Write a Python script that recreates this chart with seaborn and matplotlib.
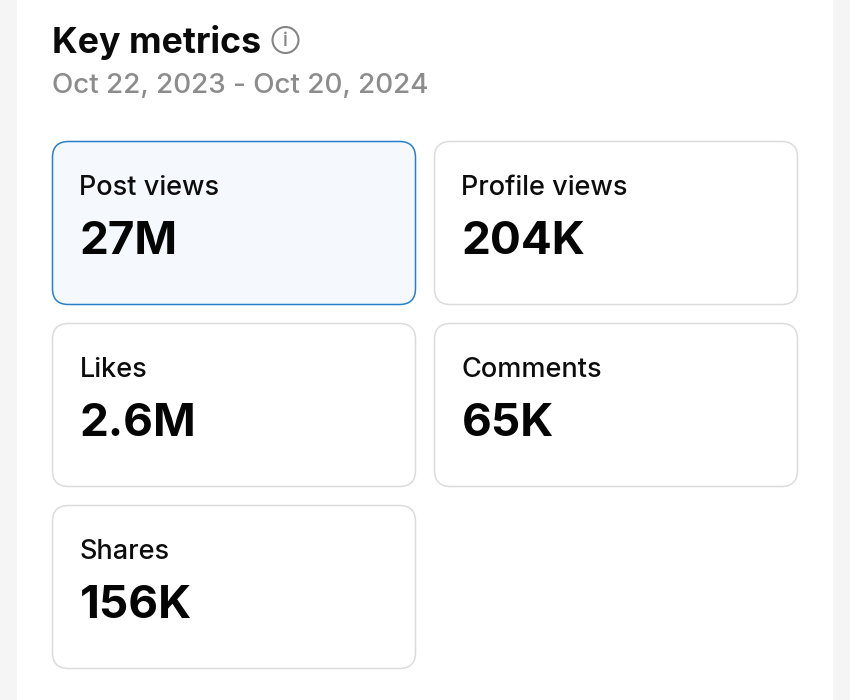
import matplotlib
matplotlib.use("Agg")
import matplotlib.pyplot as plt
from matplotlib.patches import FancyBboxPatch, Rectangle, Circle
import seaborn as sns

sns.set_theme(style="white")
plt.rcParams['font.family'] = ['Inter', 'Liberation Sans', 'DejaVu Sans']

title = "Key metrics"
subtitle = "Oct 22, 2023 - Oct 20, 2024"
labels = ["Post views", "Profile views", "Likes", "Comments", "Shares"]
values = ["27M", "204K", "2.6M", "65K", "156K"]
cols = [0, 1, 0, 1, 0]
rows = [0, 0, 1, 1, 2]

fig = plt.figure(figsize=(8.5, 7), dpi=100, facecolor="#f5f5f6")
ax = fig.add_axes([0, 0, 1, 1])
ax.set_xlim(0, 850)
ax.set_ylim(700, 0)
ax.axis("off")
ax.add_patch(Rectangle((17, 0), 816, 700, fc="white", ec="none"))

ax.text(52, 42.5, title, fontsize=25.7, fontweight="bold", color="#0a0a0a", va="center", ha="left")
ax.add_patch(Circle((285.5, 40), 13, fc="none", ec="#858585", lw=1.5))
ax.text(285.5, 40.5, "i", fontsize=14, fontweight="medium", color="#858585", va="center", ha="center")
ax.text(52, 86.5, subtitle, fontsize=20, fontweight="medium", color="#8c8c8c", va="center", ha="left")

xs = [52.5, 434.5]
ys = [141.5, 323.5, 505.5]
w, h, r = 363, 163, 16
for i, (lab, val) in enumerate(zip(labels, values)):
    x, y = xs[cols[i]], ys[rows[i]]
    sel = i == 0
    ax.add_patch(FancyBboxPatch((x + r, y + r), w - 2 * r, h - 2 * r,
                                boxstyle=f"round,pad={r},rounding_size={r}",
                                fc="#f5f9fe" if sel else "white",
                                ec="#2a7fc9" if sel else "#dcdcdc", lw=1.1))
    ax.text(x + 27, y + 46.5, lab, fontsize=19.5, fontweight="medium", color="#0d0d0d", va="center", ha="left")
    ax.text(x + 27, y + 100, val, fontsize=33, fontweight="bold", color="#050505", va="center", ha="left")

fig.savefig("out.png", dpi=100, facecolor=fig.get_facecolor())
